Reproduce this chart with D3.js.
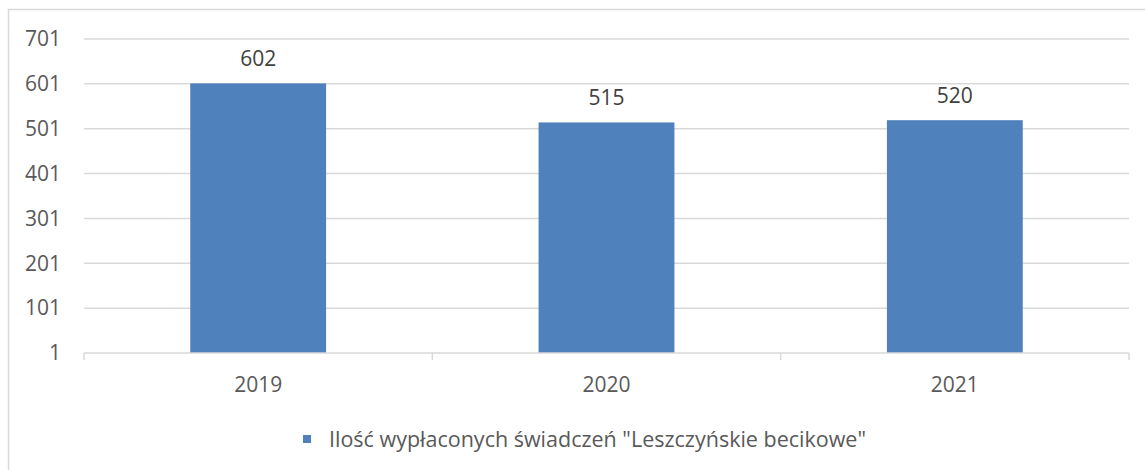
<!DOCTYPE html>
<html><head><meta charset="utf-8">
<script src="https://cdn.jsdelivr.net/npm/d3@7"></script>
<style>body{margin:0;background:#fff}svg{display:block}text{font-family:"Open Sans",Lato,sans-serif}</style>
</head><body><svg id="c" width="1145" height="470"></svg>
<script>
const categories = ["2019","2020","2021"];
const values = [602, 515, 520];
const yTicks = [1,101,201,301,401,501,601,701];
const seriesName = 'Ilość wypłaconych świadczeń "Leszczyńskie becikowe"';

const svg = d3.select("#c");
const m = {left:84, right:1129, top:39, bottom:353};
const FS = 21;

svg.append("rect").attr("x",8.5).attr("y",9.5).attr("width",1300).attr("height",600)
  .attr("fill","#fff").attr("stroke","#d9d9d9").attr("stroke-width",1.5);

const x = d3.scaleBand().domain(categories).range([m.left, m.right]).paddingInner(0.61).paddingOuter(0.305);
const xb = d3.scaleBand().domain(categories).range([m.left, m.right]);
const y = d3.scaleLinear().domain([1,701]).range([m.bottom, m.top]);

svg.append("g").selectAll("line").data(yTicks.filter(t=>t!==1)).join("line")
  .attr("x1",m.left).attr("x2",m.right).attr("y1",d=>y(d)).attr("y2",d=>y(d))
  .attr("stroke","#d9d9d9").attr("stroke-width",1.5);

svg.append("g").selectAll("text").data(yTicks).join("text")
  .attr("x",61).attr("y",d=>y(d)).attr("dy","0.35em").attr("text-anchor","end")
  .attr("fill","#595959").attr("font-size",FS).text(d=>d);

svg.append("g").selectAll("rect").data(values).join("rect")
  .attr("x",(d,i)=>x(categories[i])).attr("width",x.bandwidth())
  .attr("y",d=>y(d)).attr("height",d=>y(1)-y(d)).attr("fill","#4f81bd");

const ax = svg.append("g");
ax.append("line").attr("x1",m.left).attr("x2",m.right).attr("y1",y(1)).attr("y2",y(1))
  .attr("stroke","#d9d9d9").attr("stroke-width",1.5);
const bounds = categories.map(c=>xb(c)).concat([m.right]);
ax.selectAll("line.t").data(bounds).join("line").attr("class","t")
  .attr("x1",d=>d).attr("x2",d=>d).attr("y1",y(1)).attr("y2",y(1)+7)
  .attr("stroke","#d9d9d9").attr("stroke-width",1.5);

svg.append("g").selectAll("text").data(categories).join("text")
  .attr("x",d=>xb(d)+xb.bandwidth()/2).attr("y",385).attr("dy","0.35em").attr("text-anchor","middle")
  .attr("fill","#595959").attr("font-size",FS).text(d=>d);

svg.append("g").selectAll("text").data(values).join("text")
  .attr("x",(d,i)=>x(categories[i])+x.bandwidth()/2).attr("y",d=>y(d)-25).attr("dy","0.35em")
  .attr("text-anchor","middle").attr("fill","#404040").attr("font-size",FS).text(d=>d);

const lg = svg.append("g");
lg.append("rect").attr("x",303).attr("y",435).attr("width",8).attr("height",8).attr("fill","#4f81bd");
lg.append("text").attr("x",329).attr("y",439).attr("dy","0.35em").attr("fill","#595959")
  .attr("font-size",21.5).text(seriesName);
</script></body></html>
